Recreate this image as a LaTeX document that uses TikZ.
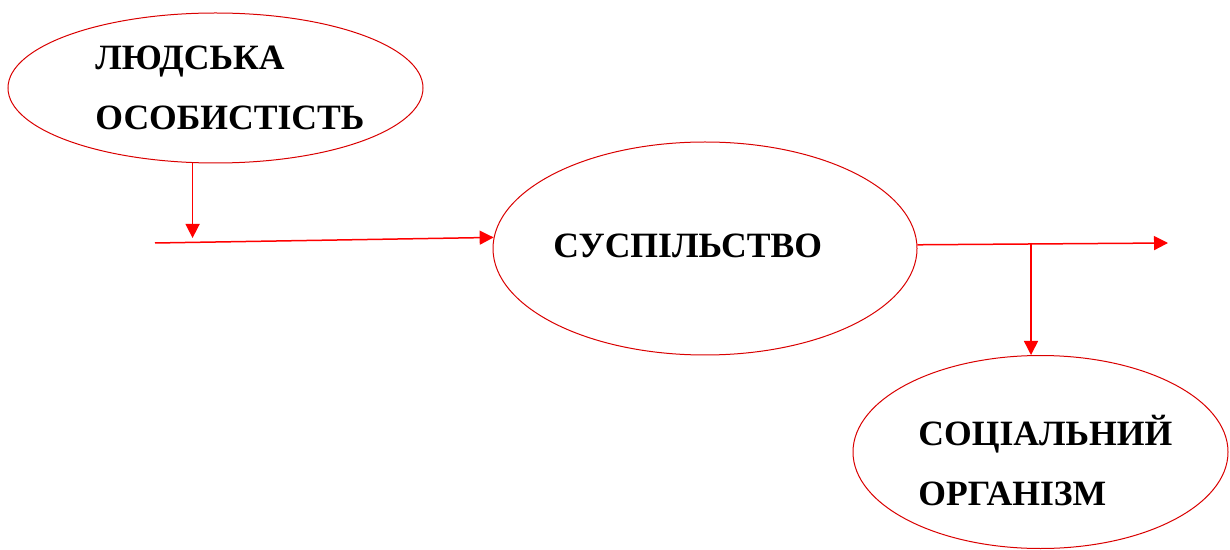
\documentclass[tikz,border=0pt]{standalone}
\usepackage{fontspec}
\setmainfont{Liberation Serif}
\usetikzlibrary{arrows.meta,shapes.geometric,positioning,calc}
\tikzset{
	scheme/.style={
		x=0.5pt, y=-0.5pt,
		font=\fontsize{17.8}{30}\selectfont\bfseries,
		ar/.style={draw=red, line width=0.75pt, -{Triangle[length=7pt,width=7pt]}},
		ln/.style={draw=red, line width=0.75pt}},
	blob/.style={ellipse, draw=red!85!black, line width=0.5pt, inner sep=0pt},
	blob size/.style 2 args={minimum width=#1, minimum height=#2},
	txt/.style={inner sep=0pt, align=left, anchor=base west}
}

\begin{document}
\begin{tikzpicture}[scheme]
   \useasboundingbox (0,0) rectangle (1230,550);
   \node[blob, blob size={207.5pt}{75pt}] (Osob) at (215.5,88) {};
   \node[blob, blob size={212pt}{106.5pt}] (Susp) at (705,248.5) {};
   \node[blob, blob size={187.5pt}{96.5pt}] (Org) at (1040.5,452) {};
   % base anchor sits on the last line
   \node[txt] (OsobT) at (95,130) {ЛЮДСЬКА\\ОСОБИСТІСТЬ};
   \node[txt] (SuspT) at (553,258) {СУСПІЛЬСТВО};
   \node[txt] (OrgT) at (918,505) {СОЦІАЛЬНИЙ\\ОРГАНІЗМ};
   \coordinate (in) at (155,243);
   \coordinate (out) at (1168,243);
   \coordinate (br) at (1031,243);
   \draw[ar] (in) -- (Susp.177);
   \draw[ar] (Osob.253) -- ($(Osob.253 |- in)+(0,-5)$);
   \draw[ar] (Susp.1.5) -- (out);
   \draw[ar] (br) -- (br |- Org.north);
\end{tikzpicture}
\end{document}
